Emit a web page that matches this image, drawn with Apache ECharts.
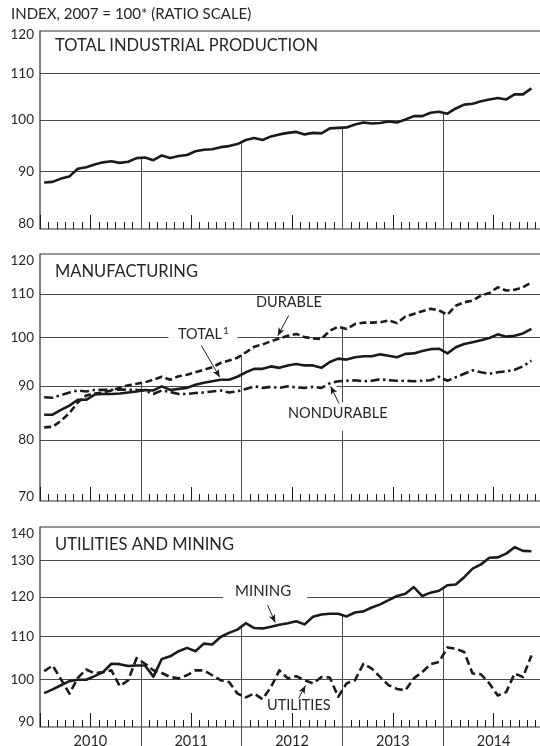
<!DOCTYPE html>
<html>
<head>
<meta charset="utf-8">
<script src="https://cdn.jsdelivr.net/npm/echarts@6/dist/echarts.min.js"></script>
<style>
  html, body { margin: 0; padding: 0; background: #fff; }
  #chart { width: 540px; height: 746px; }
</style>
</head>
<body>
<div id="chart"></div>
<script>
// monthly index values, Jan 2010 - Nov 2014 (2007 = 100)
const years = ['2010', '2011', '2012', '2013', '2014'];

const totalIP = [
  88.0, 88.1, 88.7, 89.1, 90.5, 90.8, 91.3, 91.7, 91.9, 91.6, 91.8, 92.5,
  92.6, 92.1, 93.0, 92.5, 92.9, 93.1, 93.8, 94.1, 94.2, 94.6, 94.8, 95.2,
  96.0, 96.4, 96.0, 96.7, 97.1, 97.4, 97.6, 97.1, 97.4, 97.3, 98.3, 98.4,
  98.5, 99.1, 99.5, 99.3, 99.4, 99.7, 99.5, 100.1, 100.8, 100.8, 101.5, 101.7,
  101.3, 102.4, 103.2, 103.4, 103.9, 104.3, 104.6, 104.3, 105.4, 105.4, 106.7
];

const mfgTotal = [
  84.5, 84.5, 85.4, 86.2, 87.3, 87.3, 88.3, 88.4, 88.4, 88.5, 88.7, 88.9,
  89.2, 89.1, 89.9, 89.2, 89.4, 89.6, 90.2, 90.6, 90.9, 91.2, 91.2, 91.8,
  92.7, 93.4, 93.4, 93.9, 93.6, 94.1, 94.4, 94.1, 94.1, 93.6, 94.8, 95.5,
  95.3, 95.8, 96.0, 96.0, 96.4, 96.1, 95.8, 96.5, 96.6, 97.1, 97.5, 97.6,
  96.6, 97.9, 98.6, 99.0, 99.4, 99.9, 100.7, 100.2, 100.4, 100.9, 101.9
];

const durable = [
  82.2, 82.3, 83.4, 84.8, 86.8, 88.1, 88.5, 88.7, 89.1, 89.6, 90.1, 90.4,
  90.7, 91.2, 91.8, 91.2, 91.9, 92.2, 92.7, 93.2, 93.7, 94.6, 95.1, 95.7,
  96.8, 98.0, 98.5, 99.2, 99.8, 100.4, 100.8, 100.1, 99.8, 99.7, 101.5, 102.4,
  101.9, 103.0, 103.3, 103.3, 103.4, 103.8, 103.2, 104.7, 105.3, 105.9, 106.5, 106.1,
  105.1, 107.2, 108.0, 108.4, 109.6, 110.2, 111.6, 110.8, 111.0, 111.6, 112.8
];

const nondurable = [
  87.8, 87.7, 88.2, 88.7, 89.1, 88.9, 89.2, 89.2, 89.2, 89.3, 89.2, 89.2,
  89.1, 88.4, 89.1, 88.8, 88.4, 88.4, 88.6, 88.7, 88.9, 89.1, 88.7, 88.9,
  89.4, 89.9, 89.6, 89.8, 89.6, 89.9, 89.7, 89.6, 89.8, 89.6, 90.5, 90.9,
  91.0, 91.1, 90.9, 91.0, 91.3, 91.1, 91.0, 91.0, 90.9, 91.0, 91.1, 91.8,
  91.0, 91.7, 92.4, 93.1, 92.7, 92.4, 92.7, 92.9, 93.2, 93.9, 95.1
];

const mining = [
  97.0, 97.8, 98.7, 99.6, 99.9, 99.9, 100.7, 101.6, 103.5, 103.4, 103.0, 103.1,
  103.1, 100.6, 104.6, 105.2, 106.4, 107.2, 106.4, 108.2, 108.0, 109.8, 110.8, 111.6,
  113.2, 112.0, 111.9, 112.3, 112.8, 113.2, 113.7, 112.9, 114.8, 115.4, 115.6, 115.6,
  114.9, 115.9, 116.2, 117.2, 118.0, 119.1, 120.2, 120.8, 122.6, 120.2, 121.1, 121.6,
  123.1, 123.3, 125.3, 127.7, 128.9, 130.8, 130.9, 132.0, 133.9, 132.8, 132.7
];

const utilities = [
  101.8, 103.1, 100.0, 96.9, 100.3, 102.2, 101.3, 101.6, 102.0, 98.5, 99.8, 104.8,
  103.5, 102.0, 101.4, 100.5, 100.2, 100.9, 102.0, 102.0, 100.9, 99.8, 99.4, 96.9,
  96.1, 96.9, 95.7, 98.3, 102.0, 100.2, 100.7, 99.8, 99.1, 100.5, 100.4, 96.2,
  99.1, 99.8, 103.5, 102.4, 100.5, 98.7, 97.9, 97.6, 100.2, 101.6, 103.4, 103.9,
  107.3, 107.0, 106.2, 101.3, 101.1, 99.1, 96.5, 97.2, 101.3, 100.5, 105.4
];

const ticksIP = [80, 90, 100, 110, 120];
const ticksMfg = [70, 80, 90, 100, 110, 120];
const ticksUM = [90, 100, 110, 120, 130, 140];

const INK = '#1b1b1b';
const GRIDC = '#4a4a4a';
const TXT = '#262626';
const FONT = 'Lato';

const chart = echarts.init(document.getElementById('chart'));

// x is months since Jan 2010, points sit mid-month
const pts = arr => arr.map((v, i) => [i + 0.5, v]);

function seg(x0, y0, x1, y1) {
  return [{ coord: [x0, y0] }, { coord: [x1, y1] }];
}

// horizontal rule with optional gaps (in months)
function hline(v, gaps) {
  const out = [];
  let start = 0;
  (gaps || []).forEach(g => { out.push(seg(start, v, g[0], v)); start = g[1]; });
  out.push(seg(start, v, 60, v));
  return out;
}

// year line runs from the bottom up to the highest series at the boundary
function yearTop(list, b) {
  return Math.max(...list.map(s => (s[b - 1] + s[b]) / 2));
}

// short month ticks standing on the bottom edge (7px on a ratio scale)
function monthTicks(ticks, height) {
  const lo = ticks[0], hi = ticks[ticks.length - 1];
  const top = lo * Math.pow(hi / lo, 7 / height);
  const out = [];
  for (let m = 1; m < 60; m++) {
    if (m % 6 === 0) continue;
    out.push([{ coord: [m, lo], lineStyle: { color: INK, width: 1, type: 'solid' } }, { coord: [m, top] }]);
  }
  return out;
}

function gridMark(data) {
  return {
    silent: true, symbol: 'none', z: 1, animation: false,
    label: { show: false }, emphasis: { disabled: true },
    lineStyle: { color: GRIDC, width: 1, type: 'solid' },
    data: data
  };
}

function arrowMark(data) {
  return {
    silent: true, symbol: ['none', 'arrow'], symbolSize: [5, 8], z: 5, animation: false,
    label: { show: false }, emphasis: { disabled: true },
    lineStyle: { color: INK, width: 1, type: 'solid' },
    data: data
  };
}

const panels = [
  { left: 40, top: 31, width: 504, height: 198 },
  { left: 40, top: 254, width: 504, height: 247 },
  { left: 40, top: 527, width: 504, height: 200 }
];

// grids 0-2: the framed panels; 3: overlay for year labels
const grids = panels.map(p => Object.assign({}, p, { show: true, borderColor: '#2e2e2e', borderWidth: 1.2, outerBoundsMode: 'none' }))
  .concat([Object.assign({}, panels[2], { show: false, outerBoundsMode: 'none' })]);

const xBase = { type: 'value', min: 0, max: 60,
  axisLine: { show: false }, axisLabel: { show: false }, splitLine: { show: false } };

const xAxes = [
  // half-year ticks on the data axes
  ...[0, 1, 2].map(g => Object.assign({}, xBase, { gridIndex: g, interval: 6,
    axisTick: { show: true, inside: true, length: 14, lineStyle: { color: INK, width: 1 } } })),
  // years under the bottom panel
  Object.assign({}, xBase, { gridIndex: 3, interval: 12,
    axisTick: { show: true, inside: false, length: 20, customValues: [12, 24, 36, 48],
      lineStyle: { color: GRIDC, width: 1 } },
    axisLabel: { show: true, customValues: [6, 18, 30, 42, 54], margin: 7,
      formatter: v => years[Math.floor(v / 12)],
      color: TXT, fontFamily: FONT, fontSize: 14.5 } })
];

function yAxis(g, ticks, hiPad, loPad) {
  const lo = ticks[0], hi = ticks[ticks.length - 1];
  const st = { color: TXT, fontFamily: FONT, fontSize: 13.5 };
  return {
    gridIndex: g, type: 'log', logBase: 10, min: lo, max: hi,
    axisLine: { show: false }, axisTick: { show: false },
    splitLine: { show: false }, minorTick: { show: false }, minorSplitLine: { show: false },
    axisLabel: Object.assign({
      customValues: ticks, margin: 6,
      formatter: v => {
        const r = Math.round(v);
        if (r === lo) return '{lo|' + r + '}';
        if (r === hi) return '{hi|' + r + '}';
        return String(r);
      },
      rich: {
        lo: Object.assign({ padding: [0, 0, loPad, 0] }, st),
        hi: Object.assign({ padding: [hiPad, 0, 0, 0] }, st)
      }
    }, st)
  };
}

const yAxes = [
  yAxis(0, ticksIP, 8, 10),
  yAxis(1, ticksMfg, 14, 8),
  yAxis(2, ticksUM, 14, 10),
  { gridIndex: 3, type: 'value', min: 0, max: 1, show: false }
];

// panel 1 rules
const p1 = [totalIP];
const mark1 = [].concat(
  hline(90), hline(100), hline(110),
  [12, 24, 36, 48].map(b => seg(b, 80, b, yearTop(p1, b))),
  monthTicks(ticksIP, panels[0].height)
);

// panel 2 rules
const p2 = [mfgTotal, durable, nondurable];
const mark2 = [].concat(
  hline(80), hline(90, [[24, 35.3]]), hline(100, [[15.3, 23.5]]), hline(110),
  [12, 24, 48].map(b => seg(b, 70, b, yearTop(p2, b))),
  [seg(36, 70, 36, 81.6), seg(36, 86.8, 36, yearTop(p2, 36))],
  monthTicks(ticksMfg, panels[1].height)
);
const arrows2 = [
  seg(29.6, 104.9, 28.3, 100.4),
  seg(19.2, 98.3, 21.4, 91.7),
  seg(35.6, 86.6, 34.6, 89.9)
];

// panel 3 rules
const p3 = [mining, utilities];
const mark3 = [].concat(
  hline(100), hline(110), hline(120, [[21.8, 31.8]]), hline(130),
  [12, 24, 36, 48].map(b => seg(b, 90, b, yearTop(p3, b))),
  monthTicks(ticksUM, panels[2].height)
);
const arrows3 = [
  seg(27.1, 117.8, 28.0, 113.4),
  seg(30.8, 95.9, 31.6, 98.6)
];

function line(name, data, xi, yi, type, mark) {
  const s = {
    name: name, type: 'line', xAxisIndex: xi, yAxisIndex: yi, data: pts(data),
    symbol: 'none', z: 3, animation: false, emphasis: { disabled: true },
    lineStyle: { color: INK, width: 2.6, type: type, cap: 'butt', join: 'round' }
  };
  if (mark) s.markLine = mark;
  return s;
}

const series = [
  line('Total industrial production', totalIP, 0, 0, 'solid', gridMark(mark1)),
  line('Manufacturing total', mfgTotal, 1, 1, 'solid', gridMark(mark2)),
  line('Durable', durable, 1, 1, [7, 3.5], arrowMark(arrows2)),
  line('Nondurable', nondurable, 1, 1, [9, 3.5, 2.5, 3.5]),
  line('Mining', mining, 2, 2, 'solid', gridMark(mark3)),
  line('Utilities', utilities, 2, 2, [8, 4], arrowMark(arrows3))
];

function label(text, left, cy, size, rich) {
  size = size || 16.5;
  const style = { text: text, fill: TXT, fontFamily: FONT, fontSize: size };
  if (rich) style.rich = rich;
  return { type: 'text', left: left, top: cy - size * 0.6, silent: true, z: 10, style: style };
}

chart.setOption({
  animation: false,
  backgroundColor: '#fff',
  grid: grids,
  xAxis: xAxes,
  yAxis: yAxes,
  series: series,
  graphic: [
    label('INDEX, 2007 = 100* (RATIO SCALE)', 11, 16, 15),
    label('TOTAL INDUSTRIAL PRODUCTION', 55, 47),
    label('MANUFACTURING', 55, 273),
    label('DURABLE', 256, 304, 14.5),
    label('{a|TOTAL}{s|1}', 178, 334, 14.5, {
      a: { fontFamily: FONT, fontSize: 14.5, fill: TXT },
      s: { fontFamily: FONT, fontSize: 10, fill: TXT, padding: [0, 0, 8, 1] }
    }),
    label('NONDURABLE', 288, 415, 14.5),
    label('UTILITIES AND MINING', 55, 546),
    label('MINING', 235, 593, 15),
    label('UTILITIES', 267, 707, 14.5)
  ]
});
</script>
</body>
</html>
